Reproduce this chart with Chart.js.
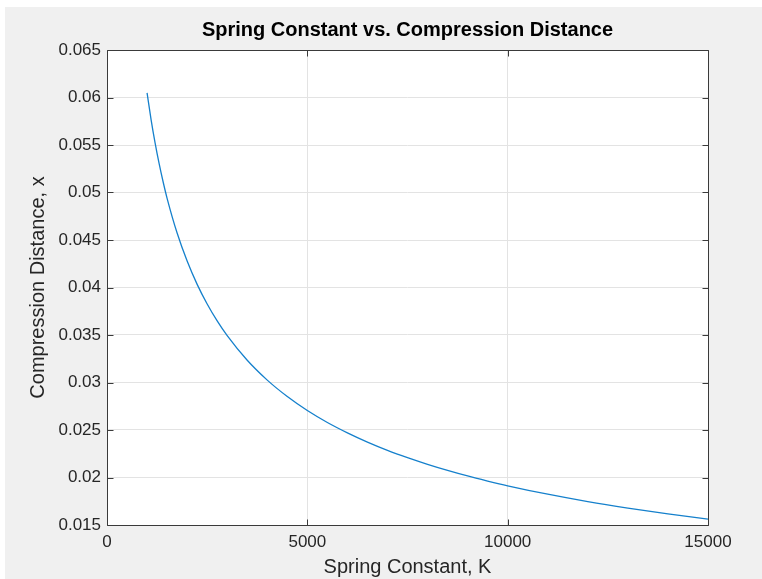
<!DOCTYPE html>
<html>
<head>
<meta charset="utf-8">
<script src="https://cdn.jsdelivr.net/npm/chart.js@4.4.0/dist/chart.umd.min.js"></script>
<style>
  html, body { margin: 0; padding: 0; background: #ffffff; }
  #wrap { position: absolute; left: 0; top: 0; width: 762px; height: 579px; }
</style>
</head>
<body>
<div id="wrap"><canvas id="c" width="762" height="579"></canvas></div>
<script>
// ---- data ----
const springK = [1000, 1100, 1200, 1300, 1400, 1500, 1750, 2000, 2250, 2500, 2750, 3000,
  3500, 4000, 4500, 5000, 5500, 6000, 6500, 7000, 7500, 8000, 8500, 9000, 9500, 10000,
  11000, 12000, 13000, 14000, 15000];
const compressionX = [0.06049, 0.05768, 0.05522, 0.05306, 0.05113, 0.04939, 0.04573, 0.04278, 0.04033, 0.03826, 0.03648, 0.03493,
  0.03234, 0.03025, 0.02852, 0.02705, 0.02579, 0.02470, 0.02373, 0.02286, 0.02209, 0.02139, 0.02075, 0.02016, 0.01963, 0.01913,
  0.01824, 0.01746, 0.01678, 0.01617, 0.01562];
const xTickValues = [0, 5000, 10000, 15000];
const xTickLabels = ['0', '5000', '10000', '15000'];
const yTickValues = [0.015, 0.02, 0.025, 0.03, 0.035, 0.04, 0.045, 0.05, 0.055, 0.06, 0.065];
const yTickLabels = ['0.015', '0.02', '0.025', '0.03', '0.035', '0.04', '0.045', '0.05', '0.055', '0.06', '0.065'];
const titleText = 'Spring Constant vs. Compression Distance';
const xTitle = 'Spring Constant, K';
const yTitle = 'Compression Distance, x';

const FONT = '"Liberation Sans", Arial, Helvetica, sans-serif';
const TXT = '#262626';

const points = springK.map((k, i) => ({ x: k, y: compressionX[i] }));

const bgPlugin = {
  id: 'bg',
  beforeDraw(chart) {
    const ctx = chart.ctx;
    const a = chart.chartArea;
    ctx.save();
    ctx.fillStyle = '#ffffff';
    ctx.fillRect(0, 0, chart.width, chart.height);
    ctx.fillStyle = '#f0f0f0';
    ctx.fillRect(5, 7, chart.width - 5, chart.height - 7);
    ctx.fillStyle = '#ffffff';
    ctx.fillRect(a.left, a.top, a.right - a.left, a.bottom - a.top);
    ctx.restore();
  }
};

const framePlugin = {
  id: 'frame',
  afterDatasetsDraw(chart) {
    const ctx = chart.ctx;
    const a = chart.chartArea;
    const xs = chart.scales.x, ys = chart.scales.y;
    const L = Math.round(a.left) + 0.5, R = Math.round(a.right) + 0.5;
    const T = Math.round(a.top) + 0.5, B = Math.round(a.bottom) + 0.5;
    ctx.save();
    ctx.strokeStyle = '#3a3a3a';
    ctx.lineWidth = 1;
    ctx.beginPath();
    ctx.rect(L, T, R - L, B - T);
    const tl = 6;
    xTickValues.forEach(v => {
      const px = Math.round(xs.getPixelForValue(v)) + 0.5;
      ctx.moveTo(px, B); ctx.lineTo(px, B - tl);
      ctx.moveTo(px, T); ctx.lineTo(px, T + tl);
    });
    yTickValues.forEach(v => {
      const py = Math.round(ys.getPixelForValue(v)) + 0.5;
      ctx.moveTo(L, py); ctx.lineTo(L + tl, py);
      ctx.moveTo(R, py); ctx.lineTo(R - tl, py);
    });
    ctx.stroke();
    ctx.restore();
  }
};

new Chart(document.getElementById('c'), {
  type: 'line',
  data: {
    datasets: [{
      data: points,
      borderColor: '#1580cc',
      borderWidth: 1.3,
      pointRadius: 0,
      fill: false,
      cubicInterpolationMode: 'monotone'
    }]
  },
  options: {
    responsive: false,
    animation: false,
    devicePixelRatio: 1,
    layout: { padding: { left: 0, right: 54, top: 0, bottom: 0 } },
    plugins: {
      legend: { display: false },
      tooltip: { enabled: false },
      title: {
        display: true,
        fullSize: false,
        text: titleText,
        color: '#000000',
        font: { family: FONT, size: 20, weight: 'bold', lineHeight: 1.2 },
        padding: { top: 18, bottom: 8 }
      }
    },
    scales: {
      x: {
        type: 'linear',
        min: 0, max: 15000,
        afterBuildTicks(scale) { scale.ticks = xTickValues.map(v => ({ value: v })); },
        afterFit(scale) { scale.height = 54; },
        ticks: {
          color: TXT,
          font: { family: FONT, size: 17 },
          padding: 7,
          maxRotation: 0,
          callback: (v) => { const i = xTickValues.indexOf(v); return i >= 0 ? xTickLabels[i] : ''; }
        },
        grid: { color: '#e3e3e3', lineWidth: 1, drawTicks: false },
        border: { display: false },
        title: {
          display: true, text: xTitle, color: TXT,
          font: { family: FONT, size: 20, lineHeight: 1.2 },
          padding: { top: 0, bottom: 0 }
        }
      },
      y: {
        type: 'linear',
        min: 0.015, max: 0.065,
        afterBuildTicks(scale) { scale.ticks = yTickValues.map(v => ({ value: v })); },
        afterFit(scale) { scale.width = 107; },
        ticks: {
          color: TXT,
          font: { family: FONT, size: 17 },
          padding: 6,
          callback: (v) => {
            const i = yTickValues.findIndex(t => Math.abs(t - v) < 1e-9);
            return i >= 0 ? yTickLabels[i] : '';
          }
        },
        grid: { color: '#e3e3e3', lineWidth: 1, drawTicks: false },
        border: { display: false },
        title: {
          display: true, text: yTitle, color: TXT,
          font: { family: FONT, size: 20, lineHeight: 1.2 },
          padding: { top: 26, bottom: 0 }
        }
      }
    }
  },
  plugins: [bgPlugin, framePlugin]
});
</script>
</body>
</html>
